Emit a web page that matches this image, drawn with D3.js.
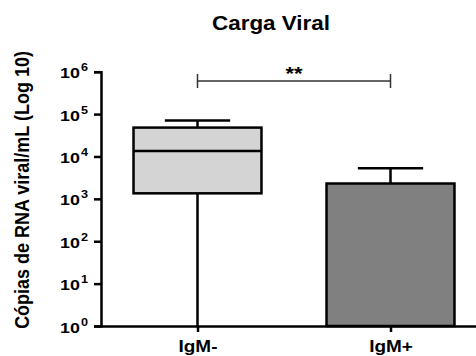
<!DOCTYPE html>
<html>
<head>
<meta charset="utf-8">
<script src="https://cdn.jsdelivr.net/npm/d3@7"></script>
<style>
  html, body { margin: 0; padding: 0; background: #fff; }
  svg { display: block; font-family: "Liberation Sans", Arial, sans-serif; }
</style>
</head>
<body>
<svg id="chart" width="476" height="356"></svg>
<script>
// Viral load per group, five-number summaries (copies/mL)
const groups = ["IgM-", "IgM+"];
const mins    = [1, 1];
const q1s     = [1350, 1];
const medians = [13500, 1];
const q3s     = [48000, 2300];
const maxs    = [71000, 5300];
const fills   = ["#d4d4d4", "#808080"];
const yTickValues = [1, 10, 100, 1000, 10000, 100000, 1000000];
const yTickExponents = ["0", "1", "2", "3", "4", "5", "6"];
const significance = "**";

const svg = d3.select("#chart");
const stretch = 1.15; // horizontal text widening

const x = d3.scalePoint().domain(groups).range([101, 487]).padding(0.5);
const y = d3.scaleLog().domain([1, 1e6]).range([326, 71.7]);
const boxW = x.step() * 0.663;
const capW = boxW * 0.51;

// Title
svg.append("text")
  .attr("transform", `translate(271,30) scale(${stretch},1)`)
  .attr("text-anchor", "middle")
  .attr("font-size", 19.5).attr("font-weight", "bold")
  .text("Carga Viral");

// Y-axis label
svg.append("text")
  .attr("transform", `translate(29,190) rotate(-90) scale(1,${stretch})`)
  .attr("text-anchor", "middle")
  .attr("font-size", 18).attr("font-weight", "bold")
  .text("Cópias de RNA viral/mL (Log 10)");

// Boxes
const data = groups.map((g, i) => ({
  g, min: mins[i], q1: q1s[i], med: medians[i], q3: q3s[i], max: maxs[i], fill: fills[i]
}));

const box = svg.append("g").selectAll("g").data(data).join("g")
  .attr("transform", d => `translate(${x(d.g)},0)`);

// whiskers
box.append("line")
  .attr("x1", 0).attr("x2", 0)
  .attr("y1", d => y(d.q3)).attr("y2", d => y(d.max))
  .attr("stroke", "#000").attr("stroke-width", 2.5);
box.filter(d => d.min < d.q1).append("line")
  .attr("x1", 0).attr("x2", 0)
  .attr("y1", d => y(d.q1)).attr("y2", d => y(d.min))
  .attr("stroke", "#000").attr("stroke-width", 2.5);
box.append("line")
  .attr("x1", -capW / 2).attr("x2", capW / 2)
  .attr("y1", d => y(d.max)).attr("y2", d => y(d.max))
  .attr("stroke", "#000").attr("stroke-width", 2.5);

box.append("rect")
  .attr("x", -boxW / 2).attr("width", boxW)
  .attr("y", d => y(d.q3)).attr("height", d => y(d.q1) - y(d.q3))
  .attr("fill", d => d.fill)
  .attr("stroke", "#000").attr("stroke-width", 2.5);

box.filter(d => d.med > d.q1).append("line")
  .attr("x1", -boxW / 2).attr("x2", boxW / 2)
  .attr("y1", d => y(d.med)).attr("y2", d => y(d.med))
  .attr("stroke", "#000").attr("stroke-width", 2.5);

// Y axis
const yAxis = svg.append("g")
  .attr("transform", "translate(101,0)")
  .call(d3.axisLeft(y).tickValues(yTickValues).tickSize(7).tickSizeOuter(7).tickFormat(""));
yAxis.selectAll("path, line").attr("stroke", "#000").attr("stroke-width", 2.5);
yAxis.selectAll(".tick").each(function (d, i) {
  const t = d3.select(this).append("text")
    .attr("transform", `translate(-13,6) scale(${stretch},1)`)
    .attr("text-anchor", "end")
    .attr("fill", "#000")
    .attr("font-size", 15.5).attr("font-weight", "bold")
    .attr("font-family", "'Liberation Sans', Arial, sans-serif");
  t.append("tspan").text("10");
  t.append("tspan").attr("dx", 1).attr("dy", -7).attr("font-size", 11).text(yTickExponents[i]);
});

// X axis
const xAxis = svg.append("g")
  .attr("transform", "translate(0,326)")
  .call(d3.axisBottom(x).tickSize(6).tickSizeOuter(0).tickFormat(""));
xAxis.selectAll("path, line").attr("stroke", "#000").attr("stroke-width", 2.5);
xAxis.selectAll(".tick").append("text")
  .attr("transform", `translate(0,25.5) scale(${stretch},1)`)
  .attr("text-anchor", "middle")
  .attr("fill", "#000")
  .attr("font-size", 16.5).attr("font-weight", "bold")
  .attr("font-family", "'Liberation Sans', Arial, sans-serif")
  .text(d => d);

// Significance bracket
const by = 81;
const br = svg.append("g").attr("stroke", "#333").attr("stroke-width", 1.5);
br.append("line").attr("x1", x(groups[0])).attr("x2", x(groups[1])).attr("y1", by).attr("y2", by);
br.append("line").attr("x1", x(groups[0])).attr("x2", x(groups[0])).attr("y1", by - 7).attr("y2", by + 7);
br.append("line").attr("x1", x(groups[1])).attr("x2", x(groups[1])).attr("y1", by - 7).attr("y2", by + 7);
svg.append("text")
  .attr("transform", `translate(${(x(groups[0]) + x(groups[1])) / 2},80) scale(${stretch},1)`)
  .attr("text-anchor", "middle")
  .attr("font-size", 19).attr("font-weight", "bold")
  .text(significance);
</script>
</body>
</html>
